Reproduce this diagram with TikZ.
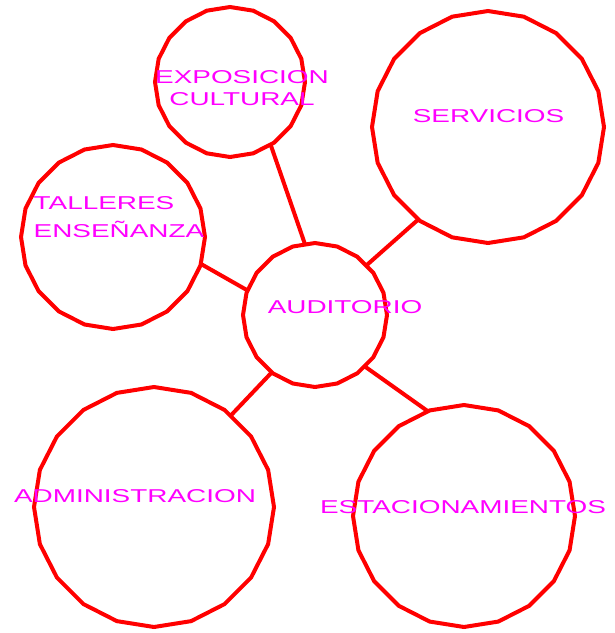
\documentclass[tikz,border=0pt]{standalone}
\usepackage{fontspec}
\newfontfamily\cadfont[FakeStretch=1.5]{Liberation Sans}
\usetikzlibrary{shapes.geometric}
\definecolor{cadred}{RGB}{255,0,0}
\definecolor{cadmagenta}{RGB}{255,0,255}

\begin{document}
\begin{tikzpicture}[x=1pt,y=-1pt]
  \tikzstyle{zona}=[draw=cadred,line width=4pt,regular polygon,regular polygon sides=20,
    shape border rotate=9,inner sep=0pt,outer sep=0pt]
  \tikzstyle{rotulo}=[text=cadmagenta,inner sep=0pt,font=\cadfont\fontsize{18.6}{28}\selectfont]
  \tikzstyle{enlace}=[draw=cadred,line width=4pt]

  \useasboundingbox (0,0) rectangle (615,633);

  % zonas
  \node[zona,minimum size=144pt] (aud)  at (315,315) {};
  \node[zona,minimum size=150pt] (expo) at (230,82)  {};
  \node[zona,minimum size=232pt] (serv) at (488,127) {};
  \node[zona,minimum size=184pt] (tall) at (113,237) {};
  \node[zona,minimum size=240pt] (adm)  at (154,507) {};
  \node[zona,minimum size=222pt] (est)  at (464,516) {};

  \path[enlace]
  (expo.-57) edge (aud.98)
  (tall.-17) edge (aud.160)
  (serv.233) edge (aud.44)
  (adm.50)   edge (aud.233)
  (est.109)  edge (aud.-46)
  ;

  % nombres
  \node[rotulo]                  (aud-t)  at (345,307.5) {AUDITORIO};
  \node[rotulo,align=center,anchor=north,font=\cadfont\fontsize{18.6}{22}\selectfont]
                                 (expo-t) at (242,70.7)  {EXPOSICION\\CULTURAL};
  \node[rotulo]                  (serv-t) at (488.5,116) {SERVICIOS};
  \node[rotulo,align=left,anchor=north west]
                                 (tall-t) at (33.5,196)  {TALLERES\\ENSEÑANZA};
  \node[rotulo]                  (adm-t)  at (135,496)   {ADMINISTRACION};
  \node[rotulo]                  (est-t)  at (463,507.5) {ESTACIONAMIENTOS};
\end{tikzpicture}
\end{document}
